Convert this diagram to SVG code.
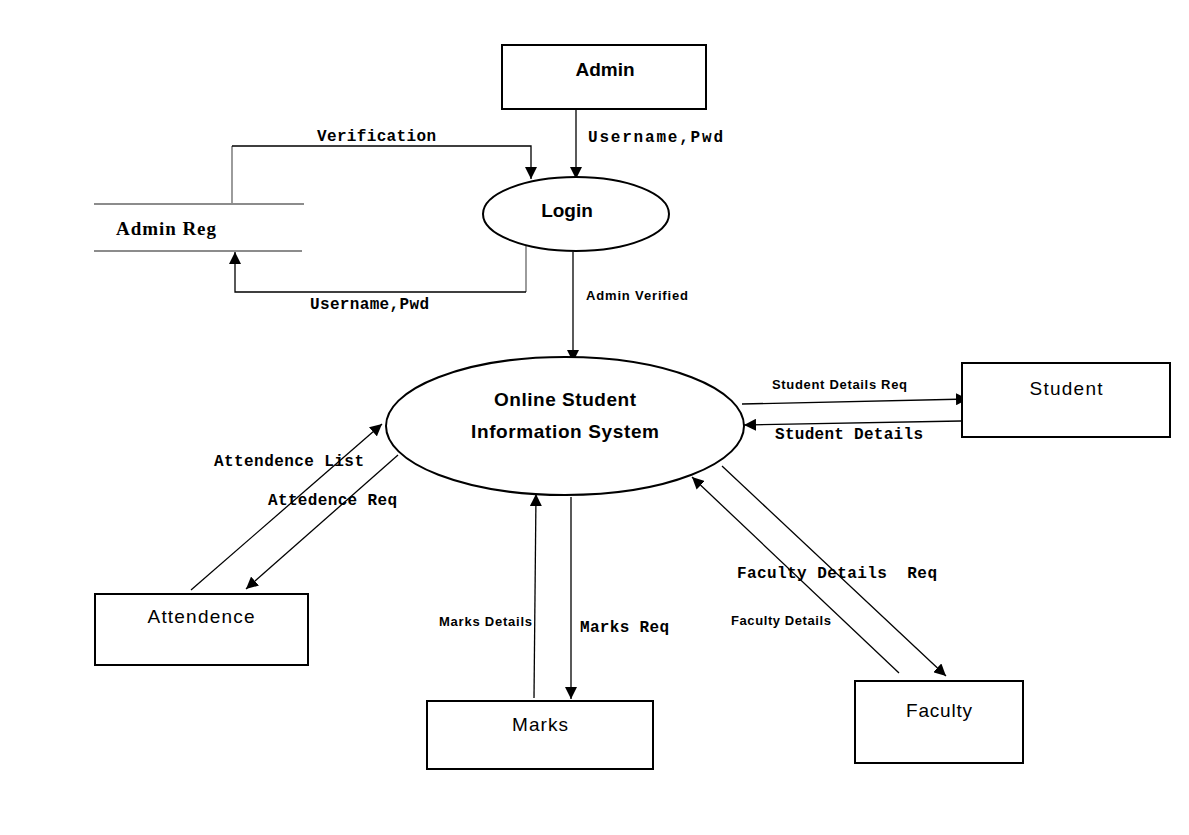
<svg xmlns="http://www.w3.org/2000/svg" width="1189" height="835" viewBox="0 0 1189 835">
<style>
.box{fill:#fff;stroke:#000;stroke-width:2}
.ell{fill:#fff;stroke:#000;stroke-width:2}
.ln{fill:none;stroke:#000;stroke-width:1.3}
.gl{fill:none;stroke:#666;stroke-width:1.3}
.mono{font-family:"Liberation Mono","Courier New",monospace;font-weight:bold;font-size:16px;fill:#000}
.lbl{font-family:"Liberation Sans",Arial,sans-serif;font-weight:bold;font-size:13px;fill:#000}
.big{font-family:"Liberation Sans",Arial,sans-serif;font-weight:bold;font-size:19px;fill:#000}
.ent{font-family:"Liberation Sans",Arial,sans-serif;font-size:19px;fill:#000}
.ser{font-family:"Liberation Serif","Times New Roman",serif;font-weight:bold;font-size:19px;fill:#000}
</style>
<defs>
<marker id="ah" markerUnits="userSpaceOnUse" markerWidth="14" markerHeight="12" refX="12" refY="6" orient="auto">
<path d="M0,0 L12,6 L0,12 Z" fill="#000"/>
</marker>
</defs>
<rect width="1189" height="835" fill="#fff"/>

<g id="connectors">
<path class="ln" d="M576,110 L576,179" marker-end="url(#ah)"/>
<path class="gl" d="M232,203 L232,146"/>
<path class="ln" d="M232,146 L531,146 L531,179" marker-end="url(#ah)"/>
<path class="gl" d="M526,246 L526,292"/>
<path class="ln" d="M526,292 L235,292 L235,252" marker-end="url(#ah)"/>
<path class="ln" d="M573,252 L573,362" marker-end="url(#ah)"/>
<path class="ln" d="M742,404 L968,399" marker-end="url(#ah)"/>
<path class="ln" d="M961,421 L744,425" marker-end="url(#ah)"/>
<path class="ln" d="M191,590 L382,424" marker-end="url(#ah)"/>
<path class="ln" d="M398,455 L246,589" marker-end="url(#ah)"/>
<path class="ln" d="M534,698 L536,494" marker-end="url(#ah)"/>
<path class="ln" d="M571,497 L571,699" marker-end="url(#ah)"/>
<path class="ln" d="M899,673 L692,477" marker-end="url(#ah)"/>
<path class="ln" d="M722,466 L946,676" marker-end="url(#ah)"/>
<text class="mono" x="317" y="141" textLength="119">Verification</text>
<text class="mono" x="588" y="142" textLength="135">Username,Pwd</text>
<text class="mono" x="310" y="309" textLength="119">Username,Pwd</text>
<text class="lbl" x="586" y="300" textLength="102">Admin Verified</text>
<text class="lbl" x="772" y="389" textLength="135">Student Details Req</text>
<text class="mono" x="775" y="439" textLength="148">Student Details</text>
<text class="mono" x="214" y="466" textLength="150">Attendence List</text>
<text class="mono" x="268" y="505" textLength="129">Attedence Req</text>
<text class="lbl" x="439" y="626" textLength="93">Marks Details</text>
<text class="mono" x="580" y="632" textLength="89">Marks Req</text>
<text class="mono" x="737" y="578" textLength="200" xml:space="preserve">Faculty Details  Req</text>
<text class="lbl" x="731" y="625" textLength="100">Faculty Details</text>
</g>

<g id="admin">
<rect class="box" x="502" y="45" width="204" height="64"/>
<text class="big" x="605" y="76" text-anchor="middle">Admin</text>
</g>

<g id="login">
<ellipse class="ell" cx="576" cy="214" rx="93" ry="37"/>
<text class="big" x="567" y="217" text-anchor="middle" font-size="20">Login</text>
</g>

<g id="admin-reg">
<line class="gl" x1="94" y1="204" x2="304" y2="204"/>
<line class="gl" x1="94" y1="251" x2="302" y2="251"/>
<text class="ser" x="116" y="235" textLength="100">Admin Reg</text>
</g>

<g id="system">
<ellipse class="ell" cx="565" cy="426" rx="179" ry="69"/>
<text class="big" x="565" y="406" text-anchor="middle" textLength="142">Online Student</text>
<text class="big" x="565" y="438" text-anchor="middle" textLength="188">Information System</text>
</g>

<g id="student">
<rect class="box" x="962" y="363" width="208" height="74"/>
<text class="ent" x="1066" y="395" text-anchor="middle" textLength="73">Student</text>
</g>

<g id="attendence">
<rect class="box" x="95" y="594" width="213" height="71"/>
<text class="ent" x="201" y="623" text-anchor="middle" textLength="107">Attendence</text>
</g>

<g id="marks">
<rect class="box" x="427" y="701" width="226" height="68"/>
<text class="ent" x="540" y="731" text-anchor="middle" textLength="56">Marks</text>
</g>

<g id="faculty">
<rect class="box" x="855" y="681" width="168" height="82"/>
<text class="ent" x="939" y="717" text-anchor="middle" textLength="66">Faculty</text>
</g>
</svg>
